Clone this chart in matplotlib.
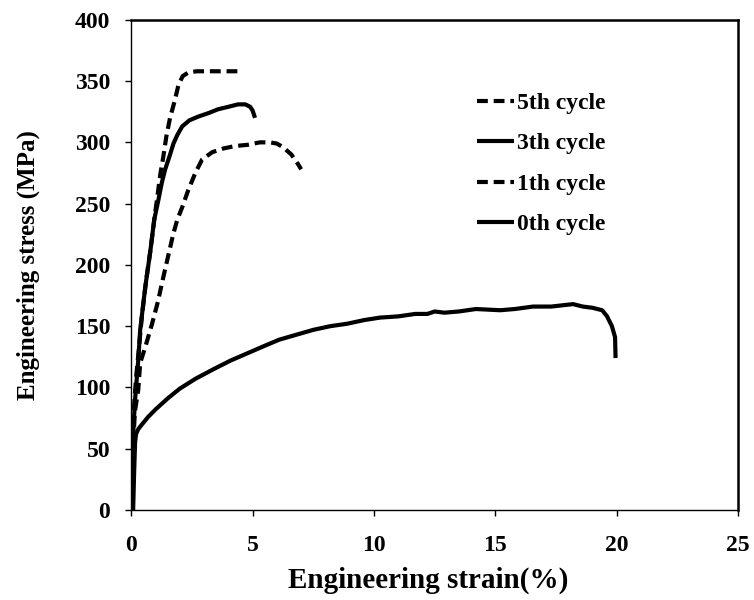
import matplotlib
matplotlib.use("Agg")
import matplotlib.pyplot as plt

plt.rcParams['font.family'] = ['Liberation Serif', 'DejaVu Serif']
plt.rcParams['font.weight'] = 'bold'

# Engineering stress-strain curves for each cycle (strain in %, stress in MPa)
strain_5th = [0.0, 0.05, 0.12, 0.2, 0.3, 0.45, 0.62, 0.8, 0.95, 1.08, 1.2, 1.32,
              1.45, 1.6, 1.78, 1.95, 2.12, 2.35, 2.7, 3.2, 3.8, 4.4]
stress_5th = [0, 45, 85, 108, 128, 160, 188, 213, 237, 256, 274, 288,
              305, 320, 333, 347, 354, 357, 358, 358, 358, 358]

strain_3rd = [0.0, 0.05, 0.1, 0.16, 0.29, 0.37, 0.58, 0.78, 0.95, 1.12, 1.26, 1.4,
              1.6, 1.74, 1.9, 2.1, 2.4, 2.76, 3.2, 3.58, 4.0, 4.4, 4.7, 4.9, 5.0, 5.1]
stress_3rd = [0, 40, 70, 90, 122, 147, 182, 210, 237, 253, 267, 278,
              290, 299, 306, 313, 318, 321, 324, 327, 329, 331, 331, 329, 326, 320]

strain_1th = [0.0, 0.05, 0.15, 0.29, 0.37, 0.58, 0.86, 1.1, 1.3, 1.52, 1.73, 1.9,
              2.1, 2.35, 2.64, 2.92, 3.34, 3.8, 4.28, 4.8, 5.3, 5.72, 6.0, 6.26,
              6.6, 6.88, 7.0]
stress_1th = [0, 40, 80, 98, 120, 133, 152, 170, 188, 207, 225, 237,
              247, 261, 275, 286, 292, 295, 297, 298, 300, 300, 299, 296,
              290, 282, 278]

strain_0th = [0.08, 0.12, 0.16, 0.2, 0.29, 0.45, 0.7, 1.0, 1.5, 2.0, 2.64, 3.4,
              4.1, 4.8, 5.5, 6.1, 6.8, 7.5, 8.2, 8.9, 9.6, 10.25, 11.0, 11.7,
              12.2, 12.5, 12.9, 13.5, 14.2, 15.2, 15.8, 16.55, 17.3, 18.2, 18.6,
              19.0, 19.4, 19.6, 19.8, 19.93, 19.95]
stress_0th = [0, 30, 55, 62, 66, 70, 76, 82, 91, 99, 107, 115,
              122, 128, 134, 139, 143, 147, 150, 152, 155, 157, 158, 160,
              160, 162, 161, 162, 164, 163, 164, 166, 166, 168, 166,
              165, 163, 158, 150, 141, 124]

series = [
    ("5th cycle", strain_5th, stress_5th, True),
    ("3th cycle", strain_3rd, stress_3rd, False),
    ("1th cycle", strain_1th, stress_1th, True),
    ("0th cycle", strain_0th, stress_0th, False),
]

x_ticks = [0, 5, 10, 15, 20, 25]
y_ticks = [0, 50, 100, 150, 200, 250, 300, 350, 400]

fig = plt.figure(figsize=(7.54, 6.0), dpi=100)
ax = fig.add_axes([0.174, 0.15, 0.805, 0.817])

for label, xs, ys, dashed in series:
    line, = ax.plot(xs, ys, color='black', lw=3.0, label=label,
                    solid_capstyle='butt', solid_joinstyle='round')
    if dashed:
        line.set_dashes((2.6, 1.4))

ax.set_xlim(0, 25)
ax.set_ylim(0, 400)
ax.set_xticks(x_ticks)
ax.set_yticks(y_ticks)
ax.tick_params(axis='x', direction='out', length=4, width=1, pad=14, labelsize=17)
ax.tick_params(axis='y', direction='out', length=4, width=1, pad=11, labelsize=17)
for t in ax.get_xticklabels() + ax.get_yticklabels():
    t.set_fontweight('bold')

for side in ['left', 'bottom']:
    ax.spines[side].set_linewidth(1.0)
for side in ['top', 'right']:
    ax.spines[side].set_linewidth(1.8)

ax.set_xlabel('Engineering strain(%)', fontsize=21, fontweight='bold')
ax.set_ylabel('Engineering stress (MPa)', fontsize=18, fontweight='bold')
ax.xaxis.set_label_coords(0.49, -0.115)
ax.yaxis.set_label_coords(-0.15, 0.5)

ax.legend(loc='upper left', bbox_to_anchor=(0.535, 0.895), frameon=False,
          handlelength=1.55, handletextpad=0.15, labelspacing=0.8,
          prop={'weight': 'bold', 'size': 17})

fig.savefig('out.png', dpi=100)
